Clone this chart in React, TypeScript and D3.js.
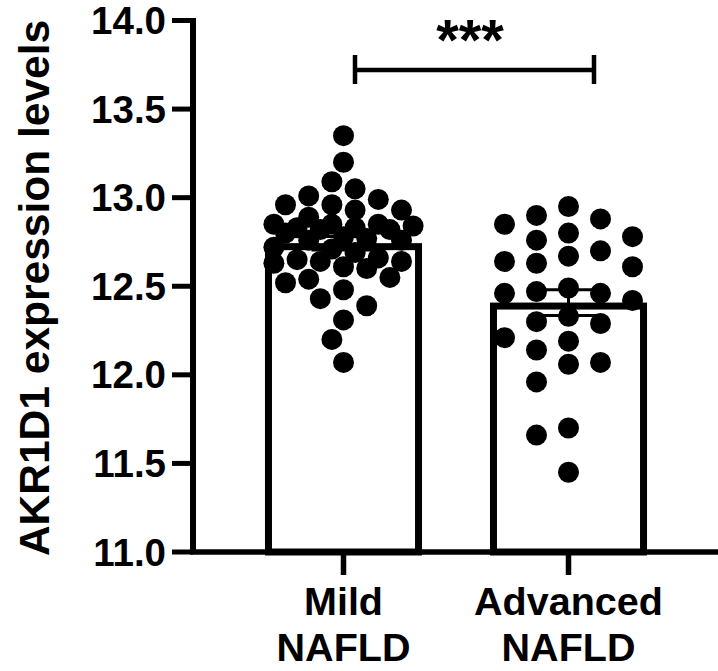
import React from "react";
import * as d3 from "d3";

const categories = ["Mild NAFLD", "Advanced NAFLD"];
const categoryLines = [
  ["Mild", "NAFLD"],
  ["Advanced", "NAFLD"],
];

const mildValues = [
  13.35, 13.2, 13.09, 13.05, 13.01, 12.99,
  12.96, 12.93, 12.96, 12.93, 12.89,
  12.85, 12.83, 12.83, 12.82, 12.85, 12.85, 12.82,
  12.77, 12.76, 12.78, 12.76, 12.8, 12.84,
  12.72, 12.69, 12.71,
  12.64, 12.6, 12.61, 12.66, 12.65, 12.64, 12.63,
  12.52, 12.54, 12.55, 12.48, 12.43, 12.39, 12.31, 12.2, 12.07,
];

const advancedValues = [
  12.95, 12.9, 12.88, 12.85, 12.8, 12.78, 12.76, 12.7, 12.67, 12.64,
  12.63, 12.61, 12.49, 12.47, 12.46, 12.46, 12.42, 12.33, 12.3, 12.29,
  12.21, 12.19, 12.14, 12.07, 12.06, 11.96, 11.7, 11.66, 11.45,
];

const yTicks = [11.0, 11.5, 12.0, 12.5, 13.0, 13.5, 14.0];
const yDomain = [11, 14];
const yLabel = "AKR1D1 expression levels";
const significance = "***";

const W = 718;
const H = 671;
const FONT = "'Liberation Sans', Arial, Helvetica, sans-serif";

function swarm(
  values: number[],
  y: (v: number) => number,
  laneStep: number,
  minDist: number,
  maxLane: number
): number[] {
  const order = values.map((_, i) => i).sort((a, b) => values[b] - values[a]);
  const placed: { x: number; y: number }[] = [];
  const offsets = new Array(values.length).fill(0);
  const lanes: number[] = [0];
  for (let k = 1; k <= maxLane; k++) lanes.push(-k, k);
  for (const i of order) {
    const py = y(values[i]);
    let best = 0;
    let bestScore = -Infinity;
    for (const lane of lanes) {
      const px = lane * laneStep;
      let md = Infinity;
      for (const p of placed) {
        const d = Math.hypot(p.x - px, p.y - py);
        if (d < md) md = d;
      }
      if (md >= minDist) {
        best = px;
        break;
      }
      if (md > bestScore) {
        bestScore = md;
        best = px;
      }
    }
    offsets[i] = best;
    placed.push({ x: best, y: py });
  }
  return offsets;
}

export default function App() {
  const yAxisX = 193;
  const xAxisY = 552;
  const y = d3.scaleLinear().domain(yDomain).range([xAxisY, 20.5]);
  const x = d3
    .scaleBand<string>()
    .domain(categories)
    .range([231, 681])
    .paddingInner(0.302)
    .paddingOuter(0.151);

  const groups = [mildValues, advancedValues];
  const swarmParams = [
    { step: 11.6, dist: 21, maxLane: 6 },
    { step: 32, dist: 22, maxLane: 2 },
  ];
  const r = 10.5;
  const barStroke = 7;

  return (
    <svg
      width={W}
      height={H}
      style={{ position: "absolute", left: 0, top: 0, background: "#fff" }}
      fontFamily={FONT}
      fontWeight="bold"
    >
      <rect width={W} height={H} fill="#fff" />
      {/* Y axis title */}
      <text
        transform={`translate(49,${(20 + 556) / 2}) rotate(-90)`}
        textAnchor="middle"
        fontSize={42.5}
        fill="#000"
      >
        {yLabel}
      </text>

      {/* Y axis */}
      <line x1={yAxisX} x2={yAxisX} y1={y(14) - 2.5} y2={xAxisY} stroke="#000" strokeWidth={6} />
      {yTicks.map((t) => (
        <g key={t}>
          <line x1={172} x2={yAxisX} y1={y(t)} y2={y(t)} stroke="#000" strokeWidth={5} />
          <text x={166} y={y(t) + 13.5} textAnchor="end" fontSize={38.5} fill="#000">
            {d3.format(".1f")(t)}
          </text>
        </g>
      ))}

      {/* Bars */}
      {groups.map((vals, gi) => {
        const cat = categories[gi];
        const x0 = x(cat)!;
        const bw = x.bandwidth();
        const m = d3.mean(vals)!;
        const top = y(m);
        return (
          <rect
            key={cat}
            x={x0 + barStroke / 2}
            y={top + barStroke / 2}
            width={bw - barStroke}
            height={xAxisY - top - barStroke / 2}
            fill="#fff"
            stroke="#000"
            strokeWidth={barStroke}
          />
        );
      })}

      {/* X axis */}
      <line x1={yAxisX - 3} x2={W} y1={xAxisY} y2={xAxisY} stroke="#000" strokeWidth={5.5} />
      {categories.map((cat, gi) => {
        const cx = x(cat)! + x.bandwidth() / 2;
        return (
          <g key={cat}>
            <line x1={cx} x2={cx} y1={xAxisY} y2={575} stroke="#000" strokeWidth={5.5} />
            {categoryLines[gi].map((ln, li) => (
              <text key={li} x={cx} y={615 + li * 46} textAnchor="middle" fontSize={39.5} fill="#000">
                {ln}
              </text>
            ))}
          </g>
        );
      })}

      {/* Error bars (mean ± SEM) */}
      {groups.map((vals, gi) => {
        const cat = categories[gi];
        const cx = x(cat)! + x.bandwidth() / 2;
        const m = d3.mean(vals)!;
        const sem = d3.deviation(vals)! / Math.sqrt(vals.length);
        const hw = 32;
        return (
          <g key={cat} stroke="#000" strokeWidth={3}>
            <line x1={cx} x2={cx} y1={y(m + sem)} y2={y(m - sem)} />
            <line x1={cx - hw} x2={cx + hw} y1={y(m + sem)} y2={y(m + sem)} />
            <line x1={cx - hw} x2={cx + hw} y1={y(m - sem)} y2={y(m - sem)} />
          </g>
        );
      })}

      {/* Dots */}
      {groups.map((vals, gi) => {
        const cat = categories[gi];
        const cx = x(cat)! + x.bandwidth() / 2;
        const p = swarmParams[gi];
        const offs = swarm(vals, (v) => y(v), p.step, p.dist, p.maxLane);
        return (
          <g key={cat}>
            {vals.map((v, i) => (
              <circle key={i} cx={cx + offs[i]} cy={y(v)} r={r} fill="#000" />
            ))}
          </g>
        );
      })}

      {/* Significance bracket */}
      <g stroke="#000" strokeWidth={4.5}>
        <line x1={355} x2={594} y1={70} y2={70} />
        <line x1={355} x2={355} y1={55} y2={84} />
        <line x1={594} x2={594} y1={55} y2={84} />
      </g>
      <text x={470} y={60} textAnchor="middle" fontSize={58} fill="#000">
        {significance}
      </text>
    </svg>
  );
}
